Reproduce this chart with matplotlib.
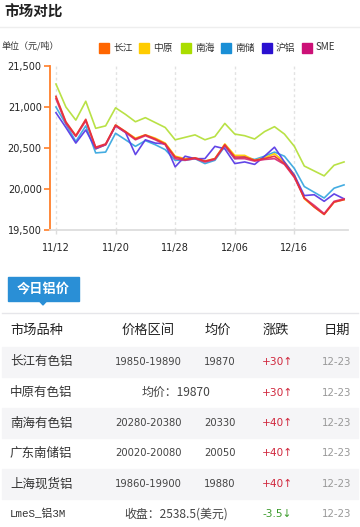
import matplotlib
matplotlib.use("Agg")
import matplotlib.pyplot as plt
from matplotlib.patches import Rectangle, Polygon
from matplotlib.lines import Line2D

plt.rcParams['font.family'] = ['Noto Sans CJK SC', 'DejaVu Sans']

# ---------------- data ----------------
dates = ["11/12", "11/13", "11/14", "11/15", "11/18", "11/19", "11/20",
         "11/21", "11/22", "11/25", "11/26", "11/27", "11/28",
         "11/29", "12/02", "12/03", "12/04", "12/05", "12/06",
         "12/09", "12/10", "12/11", "12/12", "12/13", "12/16",
         "12/17", "12/18", "12/19", "12/20", "12/23"]
tick_labels = ["11/12", "11/20", "11/28", "12/06", "12/16"]

changjiang = [21130, 20820, 20650, 20850, 20510, 20550, 20780, 20700, 20610, 20660,
              20610, 20550, 20390, 20360, 20380, 20340, 20370, 20540, 20390, 20390,
              20350, 20370, 20400, 20310, 20150, 19890, 19780, 19690, 19840, 19870]
zhongyuan = [21120, 20810, 20650, 20840, 20490, 20540, 20780, 20700, 20620, 20660,
             20620, 20560, 20400, 20370, 20380, 20340, 20370, 20550, 20410, 20410,
             20350, 20380, 20430, 20330, 20170, 19880, 19780, 19690, 19840, 19870]
nanhai = [21280, 21000, 20840, 21070, 20740, 20770, 20990, 20910, 20820, 20870,
          20810, 20750, 20600, 20630, 20660, 20600, 20640, 20800, 20670, 20650,
          20610, 20700, 20760, 20670, 20520, 20280, 20220, 20160, 20290, 20330]
nanchu = [21000, 20790, 20580, 20770, 20440, 20450, 20680, 20600, 20520, 20590,
          20540, 20480, 20350, 20350, 20370, 20310, 20350, 20520, 20370, 20390,
          20360, 20400, 20450, 20400, 20250, 20030, 19960, 19890, 20010, 20050]
hulv = [20930, 20750, 20560, 20720, 20490, 20540, 20770, 20690, 20420, 20600,
        20560, 20550, 20270, 20400, 20370, 20370, 20520, 20490, 20310, 20330,
        20300, 20400, 20510, 20330, 20170, 19920, 19930, 19850, 19940, 19880]
sme = [21100, 20800, 20640, 20830, 20500, 20540, 20770, 20690, 20600, 20650,
       20600, 20540, 20370, 20350, 20370, 20330, 20360, 20530, 20370, 20370,
       20340, 20360, 20370, 20300, 20140, 19890, 19800, 19700, 19850, 19880]

series_names = ["长江", "中原", "南海", "南储", "沪铝", "SME"]
legend_colors = ["#ff6600", "#ffcc00", "#aadd00", "#1a8fd6", "#2a10d0", "#cc1177"]
line_colors = ["#e8303a", "#ffcc00", "#b5e03c", "#3aa8e0", "#5a3ce6", "#d8307a"]

yticks = [19500, 20000, 20500, 21000, 21500]
ytick_labels = ["19,500", "20,000", "20,500", "21,000", "21,500"]

table_header = ["市场品种", "价格区间", "均价", "涨跌", "日期"]
row_names = ["长江有色铝", "中原有色铝", "南海有色铝", "广东南储铝", "上海现货铝", "LmeS_铝3M"]
row_ranges = ["19850-19890", "均价：19870", "20280-20380", "20020-20080", "19860-19900", "收盘：2538.5(美元)"]
row_avgs = ["19870", "", "20330", "20050", "19880", ""]
row_changes = ["+30", "+30", "+40", "+40", "+40", "-3.5"]
row_dates = ["12-23", "12-23", "12-23", "12-23", "12-23", "12-23"]

# ---------------- figure ----------------
W, H = 360, 527
fig = plt.figure(figsize=(W / 100, H / 100), dpi=100)
fig.patch.set_facecolor("white")


def fx(x):
    return x / W


def fy(y):
    return 1 - y / H


# title
fig.text(fx(4), fy(12), "市场对比", fontsize=10.5, fontweight="bold", color="#222222",
         va="center", ha="left")
fig.add_artist(Line2D([0, 1], [fy(27), fy(27)], color="#eeeeee", lw=1))

# unit + legend
fig.text(fx(2), fy(46), "单位（元/吨）", fontsize=6.5, color="#333333", va="center", ha="left")
leg_x = [99, 139, 181, 221, 262, 302]
for name, c, lx in zip(series_names, legend_colors, leg_x):
    fig.add_artist(Rectangle((fx(lx), fy(52.5)), 10 / W, 10 / H, color=c,
                             transform=fig.transFigure))
    fig.text(fx(lx + 14), fy(47.5), name, fontsize=7, color="#333333", va="center", ha="left")

# chart axes
ax = fig.add_axes([fx(50), fy(230), (348 - 50) / W, (230 - 66) / H])
xs = list(range(len(dates)))
all_series = [nanhai, nanchu, zhongyuan, hulv, sme, changjiang]
order_colors = [line_colors[2], line_colors[3], line_colors[1], line_colors[4], line_colors[5], line_colors[0]]
for s, c in zip(all_series, order_colors):
    ax.plot(xs, s, color=c, lw=1.2, alpha=0.95)

ax.set_xlim(-0.6, 29.4)
ax.set_ylim(19500, 21500)
ax.set_yticks(yticks)
ax.set_yticklabels(ytick_labels)
tick_idx = [dates.index(t) for t in tick_labels]
ax.set_xticks(tick_idx)
ax.set_xticklabels(tick_labels)
for t in tick_idx:
    ax.axvline(t, color="#e2e2e2", lw=1, ls=(0, (2, 2)), zorder=0)
for side in ["top", "right"]:
    ax.spines[side].set_visible(False)
ax.spines["left"].set_color("#ff7f2a")
ax.spines["left"].set_linewidth(1.3)
ax.spines["bottom"].set_color("#dddddd")
ax.spines["bottom"].set_linewidth(1.3)
ax.tick_params(axis="y", colors="#ff7f2a", length=4, width=1.2, labelsize=7,
               labelcolor="#222222", pad=2)
ax.tick_params(axis="x", colors="#dddddd", length=3, width=1, labelsize=7,
               labelcolor="#222222", pad=6)
for lab in ax.get_xticklabels() + ax.get_yticklabels():
    lab.set_family("DejaVu Sans")

# "今日铝价" tab
fig.add_artist(Rectangle((fx(8), fy(301)), 71 / W, 24 / H, color="#2a8fd6",
                         transform=fig.transFigure))
fig.add_artist(Polygon([[fx(39), fy(300.5)], [fx(47), fy(300.5)], [fx(43), fy(305)]],
                       closed=True, color="#2a8fd6", transform=fig.transFigure))
fig.text(fx(43.5), fy(289), "今日铝价", fontsize=9.5, fontweight="bold", color="white",
         va="center", ha="center")
fig.add_artist(Line2D([fx(2), fx(358)], [fy(313), fy(313)], color="#e6e6ea", lw=1))

# header
hdr_x = [10, 148, 218, 276, 337]
hdr_ha = ["left", "center", "center", "center", "center"]
for t, x, ha in zip(table_header, hdr_x, hdr_ha):
    fig.text(fx(x), fy(330), t, fontsize=9.5, color="#222222", va="center", ha=ha)

# rows
row_y = [362, 392.5, 423, 453.5, 484, 514]
for i, y in enumerate(row_y):
    if i % 2 == 0:
        fig.add_artist(Rectangle((fx(2), fy(y + 15)), 356 / W, 30.5 / H, color="#f5f5f7",
                                 transform=fig.transFigure, zorder=0))
    name = row_names[i]
    if name.startswith("Lme"):
        fig.text(fx(10), fy(y), name, fontsize=7.8, color="#333333", va="center", ha="left",
                 family=["Liberation Mono", "Noto Sans CJK SC"])
    else:
        fig.text(fx(10), fy(y), name, fontsize=9, color="#333333", va="center", ha="left")
    rng = row_ranges[i]
    if row_avgs[i]:
        fig.text(fx(148), fy(y), rng, fontsize=7.2, color="#444444", va="center", ha="center",
                 family=["DejaVu Sans"])
        fig.text(fx(220), fy(y), row_avgs[i], fontsize=7.2, color="#444444", va="center",
                 ha="center", family=["DejaVu Sans"])
    else:
        fig.text(fx(176), fy(y), rng, fontsize=8.6, color="#444444", va="center", ha="center")
    ch = row_changes[i]
    if ch.startswith("-"):
        col, arrow = "#3a9a2a", "↓"
    else:
        col, arrow = "#d0263c", "↑"
    fig.text(fx(262), fy(y), ch + arrow, fontsize=7.6, color=col, va="center", ha="left",
             family=["DejaVu Sans"])
    fig.text(fx(337), fy(y), row_dates[i], fontsize=7.4, color="#999999", va="center",
             ha="center", family=["DejaVu Sans"])

fig.savefig("out.png", dpi=100, facecolor="white")
